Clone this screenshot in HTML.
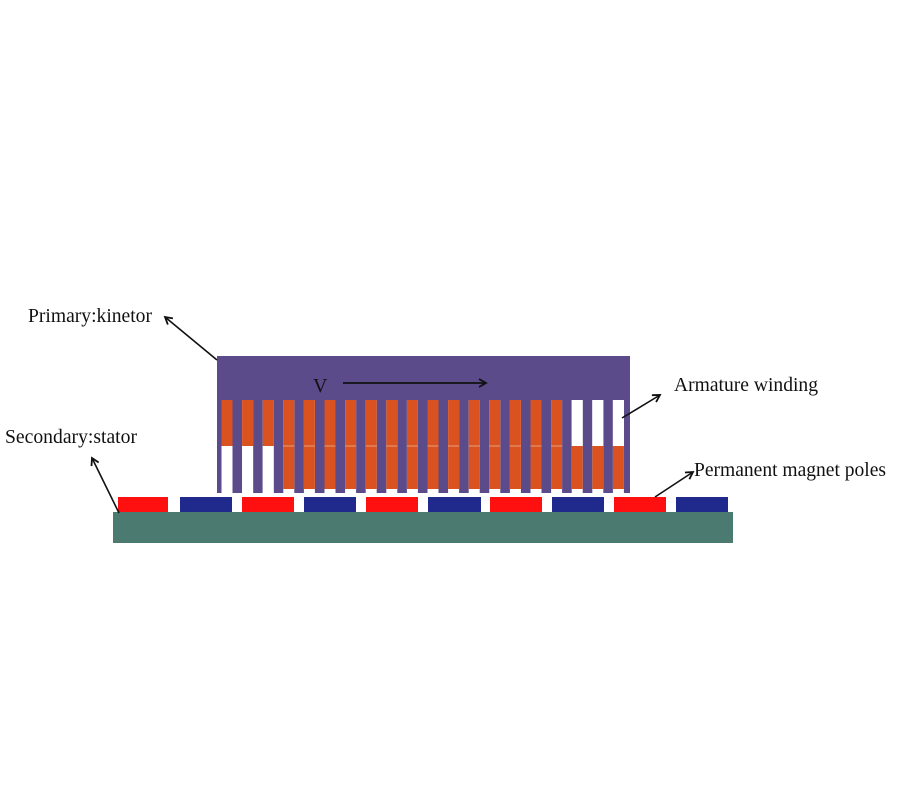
<!DOCTYPE html>
<html><head><meta charset="utf-8"><style>
body{margin:0;background:#fff;width:900px;height:800px;overflow:hidden}
svg{display:block}
text{font-family:"Liberation Serif",serif;fill:#111}
</style></head><body>
<svg width="900" height="800" viewBox="0 0 900 800">
<defs><marker id="a" markerWidth="10" markerHeight="10" refX="8" refY="5" orient="auto" markerUnits="userSpaceOnUse"><path d="M1,1 L8,5 L1,9" fill="none" stroke="#111" stroke-width="1.8"/></marker></defs>
<rect x="113" y="512" width="620" height="31" fill="#4a7a70"/>
<g fill="#ff1010">
<rect x="118" y="497" width="50" height="15"/><rect x="242" y="497" width="52" height="15"/><rect x="366" y="497" width="52" height="15"/><rect x="490" y="497" width="52" height="15"/><rect x="614" y="497" width="52" height="15"/>
</g>
<g fill="#1f2a8c">
<rect x="180" y="497" width="52" height="15"/><rect x="304" y="497" width="52" height="15"/><rect x="428" y="497" width="53" height="15"/><rect x="552" y="497" width="52" height="15"/><rect x="676" y="497" width="52" height="15"/>
</g>
<rect x="217" y="356" width="413" height="137" fill="#5b4b8a"/>
<g id="slots"></g>
<line x1="343" y1="383" x2="486" y2="383" stroke="#111" stroke-width="1.8" marker-end="url(#a)"/>
<text x="313" y="392" font-size="20">V</text>
<text x="28" y="322" font-size="20" textLength="124" lengthAdjust="spacingAndGlyphs">Primary:kinetor</text>
<text x="5" y="443" font-size="20" textLength="132" lengthAdjust="spacingAndGlyphs">Secondary:stator</text>
<text x="674" y="391" font-size="20" textLength="144" lengthAdjust="spacingAndGlyphs">Armature winding</text>
<text x="694" y="476" font-size="20" textLength="192" lengthAdjust="spacingAndGlyphs">Permanent magnet poles</text>
<g stroke="#111" stroke-width="1.6" marker-end="url(#a)">
<line x1="217" y1="360" x2="165" y2="317"/>
<line x1="119" y1="513" x2="92" y2="458"/>
<line x1="622" y1="418" x2="660" y2="395"/>
<line x1="655" y1="497" x2="693" y2="472"/>
</g>
</svg>
<script>
(function(){
var g=document.getElementById('slots'),h='';
for(var i=0;i<20;i++){var x=221.5+i*20.6;
var cTop=(i>=17)?'#ffffff':'#d9521f',cBot=(i<=2)?'#ffffff':'#d9521f';
h+='<rect x="'+x+'" y="400" width="11" height="93" fill="#ffffff"/>';
h+='<rect x="'+x+'" y="400" width="11" height="46" fill="'+cTop+'"/>';
h+='<rect x="'+x+'" y="446" width="11" height="'+(cBot=='#ffffff'?47:43)+'" fill="'+cBot+'"/>';
if(cTop!='#ffffff'&&cBot!='#ffffff')h+='<rect x="'+x+'" y="445.5" width="11" height="1" fill="#e8a080"/>';}
g.innerHTML=h;
})();
</script>
</body></html>
